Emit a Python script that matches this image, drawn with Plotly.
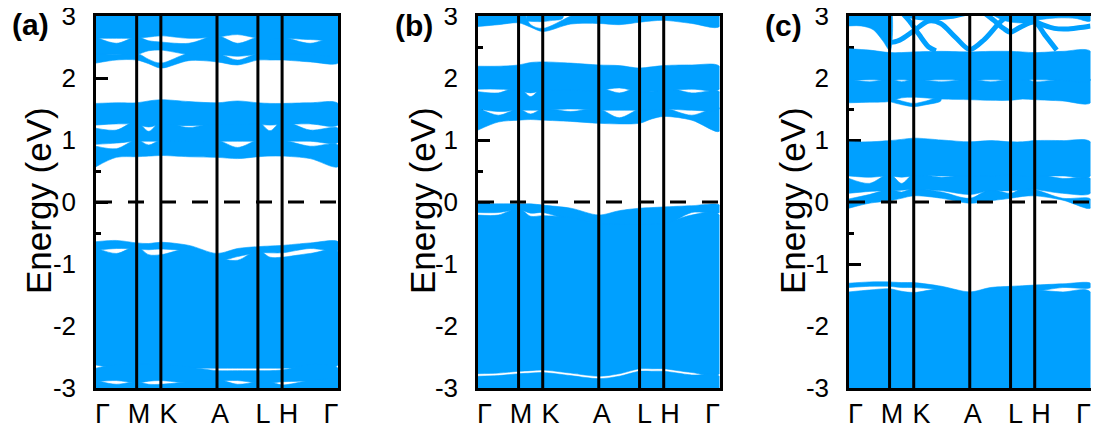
import plotly.graph_objects as go

# ---------------- k-path ----------------
K_NODES = [0.0, 0.168, 0.268, 0.5, 0.669, 0.769, 1.0]
K_LABELS = ["Γ", "M", "K", "A", "L", "H", "Γ"]
K_LABEL_POS = [0.027, 0.178, 0.300, 0.512, 0.690, 0.795, 0.971]
K_GRID = [0.0, 0.084, 0.168, 0.218, 0.268, 0.384, 0.5, 0.585, 0.669, 0.719, 0.769, 0.885, 1.0]
PANEL_TAGS = ["(a)", "(b)", "(c)"]
Y_TICKS = [-3, -2, -1, 0, 1, 2, 3]
E_FERMI = 0.0

# ---------------- panel (a): band envelopes (eV) on K_GRID ----------------
A_U1_LO = [2.24, 2.29, 2.29, 2.23, 2.16, 2.28, 2.26, 2.21, 2.29, 2.29, 2.29, 2.26, 2.24]
A_U1_HI = [2.40, 2.38, 2.40, 2.30, 2.24, 2.40, 2.40, 2.29, 2.40, 2.40, 2.40, 2.40, 2.40]
A_U2_LO = [2.38, 2.38, 2.38, 2.44, 2.45, 2.38, 2.38, 2.35, 2.38, 2.38, 2.38, 2.38, 2.38]
A_U2_HI = [2.66, 2.56, 2.66, 2.60, 2.58, 2.56, 2.68, 2.56, 2.66, 2.66, 2.66, 2.56, 2.66]
A_U3_LO = [2.64, 2.64, 2.64, 2.66, 2.68, 2.64, 2.66, 2.70, 2.64, 2.62, 2.64, 2.62, 2.64]
A_U3_HI = [3.2] * 13
A_M1_LO = [0.57, 0.72, 0.73, 0.74, 0.75, 0.73, 0.72, 0.70, 0.73, 0.74, 0.74, 0.70, 0.57]
A_M1_HI = [0.90, 0.86, 1.00, 0.92, 1.00, 1.00, 1.00, 0.88, 1.00, 1.00, 1.00, 0.90, 0.92]
A_M2_LO = [0.93, 0.95, 0.98, 0.98, 0.98, 0.98, 0.98, 0.98, 0.98, 0.98, 0.98, 0.98, 0.96]
A_M2_HI = [1.19, 1.16, 1.30, 1.14, 1.30, 1.20, 1.30, 1.30, 1.30, 1.15, 1.30, 1.16, 1.19]
A_M3_LO = [1.24, 1.26, 1.25, 1.21, 1.25, 1.23, 1.25, 1.25, 1.25, 1.24, 1.25, 1.26, 1.24]
A_M3_HI = [1.59, 1.60, 1.60, 1.63, 1.65, 1.62, 1.60, 1.63, 1.60, 1.59, 1.59, 1.60, 1.59]
A_V1_HI = [-0.64, -0.62, -0.66, -0.67, -0.65, -0.70, -0.83, -0.75, -0.72, -0.71, -0.70, -0.66, -0.64]
A_V1_LO = [-0.78, -0.75, -0.76, -0.77, -0.76, -0.80, -0.95, -0.88, -0.82, -0.82, -0.82, -0.75, -0.78]
A_V2_HI = [-0.74, -0.83, -0.72, -0.85, -0.85, -0.76, -0.90, -0.94, -0.78, -0.89, -0.89, -0.83, -0.80]
A_V2_LO = [-2.63, -2.68, -2.68, -2.68, -2.68, -2.68, -2.68, -2.68, -2.68, -2.68, -2.68, -2.66, -2.63]
A_V3_HI = [-2.68, -2.62, -2.62, -2.62, -2.62, -2.66, -2.72, -2.72, -2.72, -2.72, -2.71, -2.62, -2.68]
A_V3_LO = [-2.90, -2.88, -2.92, -2.89, -2.88, -2.92, -2.89, -2.88, -2.92, -2.92, -2.90, -2.89, -2.90]
A_V4_HI = [-2.88, -2.94, -2.90, -2.94, -2.94, -2.90, -2.86, -2.94, -2.90, -2.90, -2.95, -2.88, -2.88]
A_V4_LO = [-3.2] * 13

# ---------------- panel (b) ----------------
B_T1_LO = [2.83, 2.86, 2.89, 2.82, 2.75, 2.87, 2.88, 2.86, 2.90, 2.92, 2.93, 2.88, 2.83]
B_T1_HI = [3.2, 3.2, 3.2, 2.86, 2.80, 3.0, 3.2, 3.2, 3.2, 3.2, 3.2, 3.2, 3.2]
B_T2_K = [0.20, 0.24, 0.268, 0.31, 0.35]
B_T2_LO = [2.92, 2.91, 2.91, 2.93, 2.96]
B_T2_HI = [3.2, 3.2, 3.2, 3.2, 3.2]
B_B1_LO = [1.16, 1.29, 1.32, 1.33, 1.32, 1.30, 1.27, 1.26, 1.27, 1.34, 1.38, 1.32, 1.14]
B_B1_HI = [1.52, 1.40, 1.50, 1.42, 1.50, 1.46, 1.50, 1.36, 1.50, 1.50, 1.52, 1.40, 1.52]
B_B2_LO = [1.50, 1.46, 1.48, 1.48, 1.48, 1.50, 1.48, 1.48, 1.48, 1.48, 1.50, 1.48, 1.50]
B_B2_HI = [1.78, 1.76, 1.85, 1.70, 1.85, 1.85, 1.85, 1.76, 1.85, 1.78, 1.85, 1.76, 1.78]
B_B3_LO = [1.82, 1.82, 1.80, 1.76, 1.80, 1.80, 1.80, 1.84, 1.78, 1.78, 1.80, 1.82, 1.82]
B_B3_HI = [2.19, 2.19, 2.21, 2.25, 2.26, 2.24, 2.21, 2.20, 2.16, 2.18, 2.20, 2.21, 2.19]
B_V1_HI = [-0.03, -0.03, -0.03, -0.03, -0.05, -0.10, -0.21, -0.14, -0.10, -0.09, -0.08, -0.06, -0.05]
B_V1_LO = [-0.17, -0.17, -0.12, -0.18, -0.17, -0.30, -0.40, -0.40, -0.40, -0.40, -0.40, -0.17, -0.17]
B_V2_HI = [-0.21, -0.21, -0.10, -0.23, -0.22, -0.25, -0.35, -0.35, -0.35, -0.35, -0.35, -0.21, -0.21]
B_V2_LO = [-2.77, -2.76, -2.73, -2.72, -2.71, -2.76, -2.81, -2.77, -2.69, -2.69, -2.69, -2.75, -2.77]
B_V3_HI = [-2.81, -2.80, -2.77, -2.76, -2.75, -2.80, -2.85, -2.81, -2.73, -2.73, -2.73, -2.79, -2.81]
B_V3_LO = [-3.2] * 13

# ---------------- panel (c) ----------------
C_T0_K = [0.0, 0.05, 0.10, 0.14, 0.17]
C_T0_LO = [2.84, 2.84, 2.78, 2.60, 2.44]
C_T0_HI = [3.2, 3.2, 3.2, 3.2, 3.2]
C_T2_K = [0.58, 0.64, 0.70, 0.77, 0.80]
C_T2_LO = [3.05, 2.93, 2.89, 2.91, 3.05]
C_T2_HI = [3.2, 3.2, 3.2, 3.2, 3.2]
C_T3_K = [0.769, 0.83, 0.88, 0.94, 1.0]
C_T3_LO = [2.93, 2.96, 2.97, 2.96, 2.92]
C_T3_HI = [3.2, 3.2, 3.2, 3.2, 3.2]
C_L1_K = [0.09, 0.13, 0.168, 0.21, 0.268, 0.33, 0.38, 0.44, 0.5, 0.56, 0.62, 0.66]
C_L1_E = [3.05, 2.78, 2.58, 2.61, 2.76, 2.92, 2.88, 2.66, 2.46, 2.62, 2.88, 3.02]
C_L2_K = [0.22, 0.25, 0.29, 0.33, 0.36]
C_L2_E = [3.05, 2.92, 2.70, 2.50, 2.44]
C_L4_K = [0.24, 0.30, 0.36, 0.42, 0.48]
C_L4_E = [3.02, 2.97, 2.97, 2.99, 3.04]
C_L5_K = [0.56, 0.60, 0.64, 0.669, 0.71, 0.769, 0.81, 0.86]
C_L5_E = [3.05, 2.93, 2.80, 2.74, 2.82, 2.90, 2.70, 2.45]
C_L6_K = [0.769, 0.80, 0.85, 0.90, 0.95, 1.0]
C_L6_E = [2.92, 2.86, 2.80, 2.79, 2.81, 2.84]
C_U1_LO = [1.60, 1.61, 1.62, 1.68, 1.69, 1.66, 1.65, 1.64, 1.64, 1.66, 1.65, 1.63, 1.60]
C_U1_HI = [1.98, 1.94, 1.98, 1.94, 1.98, 1.94, 1.98, 1.94, 1.98, 2.00, 1.94, 1.98, 1.98]
C_U2_LO = [1.96, 1.97, 1.96, 1.97, 1.96, 1.97, 1.96, 1.97, 1.96, 1.96, 1.97, 1.96, 1.96]
C_U2_HI = [2.47, 2.45, 2.41, 2.41, 2.42, 2.43, 2.42, 2.43, 2.43, 2.42, 2.41, 2.43, 2.43]
C_UK_K = [0.168, 0.218, 0.268, 0.32, 0.38]
C_UK_LO = [1.62, 1.57, 1.54, 1.57, 1.63]
C_UK_HI = [1.68, 1.63, 1.59, 1.63, 1.69]
C_M1_LO = [-0.10, -0.02, 0.02, 0.06, 0.10, 0.06, -0.02, 0.02, 0.06, 0.09, 0.10, 0.03, -0.10]
C_M1_HI = [0.05, 0.12, 0.20, 0.16, 0.22, 0.16, 0.06, 0.20, 0.14, 0.22, 0.20, 0.06, 0.05]
C_M2_LO = [0.14, 0.17, 0.18, 0.19, 0.20, 0.18, 0.12, 0.18, 0.18, 0.20, 0.20, 0.14, 0.14]
C_M2_HI = [0.38, 0.30, 0.45, 0.30, 0.45, 0.40, 0.45, 0.45, 0.45, 0.45, 0.45, 0.38, 0.38]
C_M3_LO = [0.42, 0.40, 0.42, 0.40, 0.42, 0.42, 0.42, 0.42, 0.44, 0.42, 0.42, 0.42, 0.42]
C_M3_HI = [0.97, 0.97, 0.99, 1.01, 1.03, 1.00, 0.97, 0.99, 0.97, 0.97, 0.99, 0.99, 0.97]
C_V1_HI = [-1.31, -1.29, -1.29, -1.30, -1.30, -1.36, -1.45, -1.38, -1.36, -1.35, -1.34, -1.32, -1.31]
C_V1_LO = [-1.38, -1.36, -1.36, -1.38, -1.38, -1.42, -1.52, -1.46, -1.44, -1.44, -1.44, -1.38, -1.38]
C_V2_HI = [-1.45, -1.42, -1.40, -1.44, -1.46, -1.40, -1.50, -1.44, -1.42, -1.42, -1.42, -1.45, -1.45]
C_V2_LO = [-3.2] * 13

# ---------------- assembly ----------------
BLUE = "#00A0FF"
FONT = "Liberation Sans, Arial, sans-serif"

PANEL_FILLS = [
    [(K_GRID, A_U1_LO, A_U1_HI), (K_GRID, A_U2_LO, A_U2_HI), (K_GRID, A_U3_LO, A_U3_HI),
     (K_GRID, A_M1_LO, A_M1_HI), (K_GRID, A_M2_LO, A_M2_HI), (K_GRID, A_M3_LO, A_M3_HI),
     (K_GRID, A_V1_LO, A_V1_HI), (K_GRID, A_V2_LO, A_V2_HI), (K_GRID, A_V3_LO, A_V3_HI),
     (K_GRID, A_V4_LO, A_V4_HI)],
    [(K_GRID, B_T1_LO, B_T1_HI), (B_T2_K, B_T2_LO, B_T2_HI),
     (K_GRID, B_B1_LO, B_B1_HI), (K_GRID, B_B2_LO, B_B2_HI), (K_GRID, B_B3_LO, B_B3_HI),
     (K_GRID, B_V1_LO, B_V1_HI), (K_GRID, B_V2_LO, B_V2_HI), (K_GRID, B_V3_LO, B_V3_HI)],
    [(C_T0_K, C_T0_LO, C_T0_HI), (C_T2_K, C_T2_LO, C_T2_HI), (C_T3_K, C_T3_LO, C_T3_HI),
     (K_GRID, C_U1_LO, C_U1_HI), (K_GRID, C_U2_LO, C_U2_HI), (C_UK_K, C_UK_LO, C_UK_HI),
     (K_GRID, C_M1_LO, C_M1_HI), (K_GRID, C_M2_LO, C_M2_HI), (K_GRID, C_M3_LO, C_M3_HI),
     (K_GRID, C_V1_LO, C_V1_HI), (K_GRID, C_V2_LO, C_V2_HI)],
]
PANEL_LINES = [
    [],
    [],
    [(C_L1_K, C_L1_E), (C_L2_K, C_L2_E), (C_L4_K, C_L4_E), (C_L5_K, C_L5_E), (C_L6_K, C_L6_E)],
]

# page body has an 8px margin: lay the figure out in page pixels minus that offset
OFF = 8
W, H = 1099 - OFF, 432 - OFF
PLOT_TOP, PLOT_BOT = 16 - OFF, 388 - OFF
MT, MB = PLOT_TOP, H - PLOT_BOT
PANEL_PX = [(96 - OFF, 338 - OFF), (478 - OFF, 719.5 - OFF), (849 - OFF, 1090.5 - OFF)]
YLABEL_X = [38 - OFF, 422 - OFF, 792 - OFF]
YLABEL_Y = 201 - OFF
TAG_XY = [(31 - OFF, 25 - OFF), (414 - OFF, 26 - OFF), (783.5 - OFF, 26 - OFF)]

fig = go.Figure()
for p in range(3):
    suf = "" if p == 0 else str(p + 1)
    for k, lo, hi in PANEL_FILLS[p]:
        xs = list(k) + list(k)[::-1]
        ys = list(hi) + list(lo)[::-1]
        fig.add_trace(go.Scatter(
            x=xs, y=ys, mode="lines", fill="toself", fillcolor=BLUE,
            line=dict(color=BLUE, width=0.6, shape="spline", smoothing=0.9),
            hoverinfo="skip", showlegend=False, xaxis="x" + suf, yaxis="y" + suf))
    for k, e in PANEL_LINES[p]:
        fig.add_trace(go.Scatter(
            x=k, y=e, mode="lines",
            line=dict(color=BLUE, width=5, shape="spline", smoothing=0.9),
            hoverinfo="skip", showlegend=False, xaxis="x" + suf, yaxis="y" + suf))

shapes = []
annotations = []
plot_h = H - MT - MB
for p in range(3):
    suf = "" if p == 0 else str(p + 1)
    x0, x1 = PANEL_PX[p]
    fig.layout["xaxis" + suf] = dict(
        domain=[x0 / W, x1 / W], range=[0, 1], anchor="y" + suf,
        showgrid=False, zeroline=False, showline=True, mirror=True,
        linecolor="black", linewidth=2.5, ticks="",
        tickmode="array", tickvals=K_LABEL_POS, ticktext=K_LABELS,
        tickfont=dict(family=FONT, size=27, color="black"),
        ticklabelstandoff=0, ticklabeloverflow="allow", automargin=False,
        layer="below traces", fixedrange=True)
    fig.layout["yaxis" + suf] = dict(
        domain=[0, 1], range=[-3, 3], anchor="x" + suf,
        showgrid=False, zeroline=False, showline=True, mirror=True,
        linecolor="black", linewidth=2.5,
        ticks="inside", ticklen=12, tickwidth=3, tickcolor="black",
        tickmode="array", tickvals=Y_TICKS, ticktext=[str(v) for v in Y_TICKS],
        minor=dict(ticks="inside", ticklen=5, tickwidth=3, tickcolor="black", dtick=0.5, tick0=-3),
        tickfont=dict(family=FONT, size=26, color="black"),
        ticklabelstandoff=12, ticklabeloverflow="allow", automargin=False,
        layer="below traces", fixedrange=True)
    for kn in K_NODES[1:-1]:
        shapes.append(dict(type="line", xref="x" + suf, yref="y" + suf,
                           x0=kn, x1=kn, y0=-3, y1=3,
                           line=dict(color="black", width=3), layer="above"))
    shapes.append(dict(type="line", xref="x" + suf, yref="y" + suf,
                       x0=0, x1=1, y0=E_FERMI, y1=E_FERMI,
                       line=dict(color="black", width=3, dash="16px,16px"), layer="above"))
    annotations.append(dict(
        text="Energy (eV)", textangle=-90, xref="paper", yref="paper",
        x=YLABEL_X[p] / W, y=(PLOT_BOT - YLABEL_Y) / plot_h, xanchor="center", yanchor="middle",
        showarrow=False, font=dict(family=FONT, size=35, color="black")))
    tx, ty = TAG_XY[p]
    annotations.append(dict(
        text="<b>" + PANEL_TAGS[p] + "</b>", xref="paper", yref="paper",
        x=tx / W, y=(PLOT_BOT - ty) / plot_h, xanchor="center", yanchor="middle",
        showarrow=False, font=dict(family=FONT, size=30, color="black")))

fig.update_layout(
    width=W, height=H, autosize=False,
    margin=dict(l=0, r=0, t=MT, b=MB, pad=0, autoexpand=False),
    paper_bgcolor="white", plot_bgcolor="white",
    shapes=shapes, annotations=annotations, showlegend=False,
)
fig.write_html("out.html")
